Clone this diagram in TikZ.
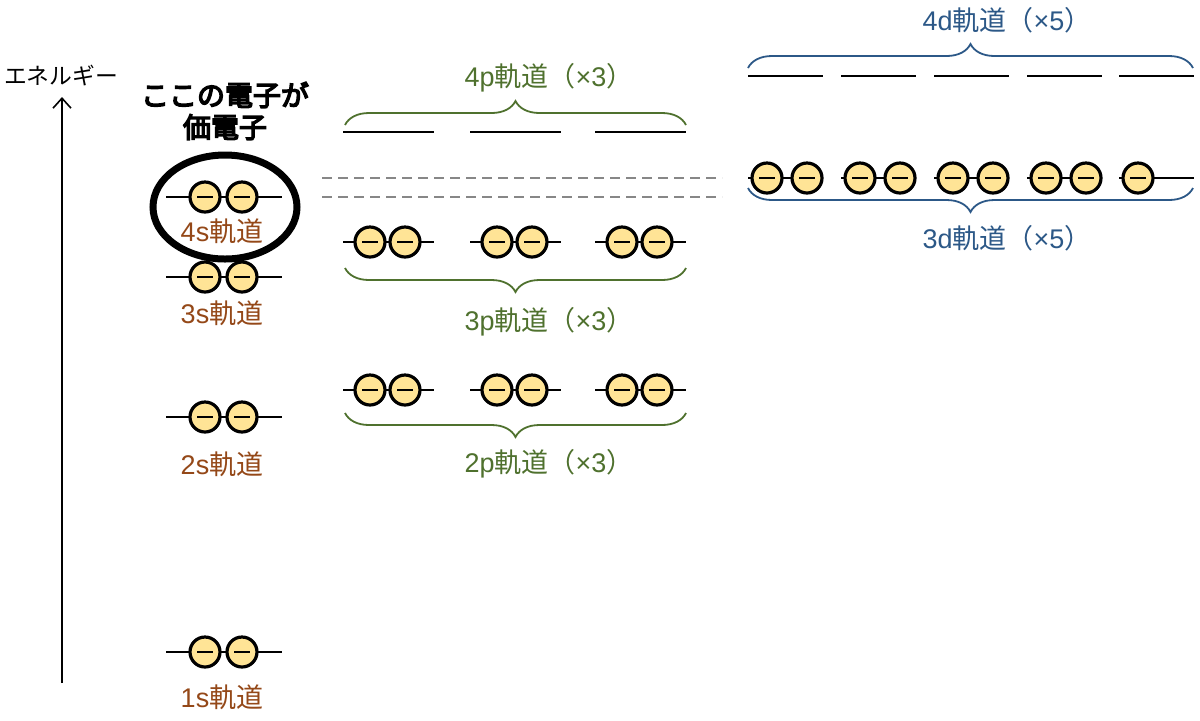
\documentclass[tikz,border=0pt]{standalone}
\usepackage{fontspec}
\setmainfont{Noto Sans CJK JP}
\newfontfamily\cjkheavy{Noto Sans CJK JP}[FakeBold=5]
\newfontfamily\latn{Liberation Sans}
\usetikzlibrary{arrows.meta,decorations.pathreplacing,shapes.geometric}
\definecolor{sbrown}{RGB}{148,72,24}
\definecolor{pgreen}{RGB}{79,113,46}
\definecolor{dblue}{RGB}{44,88,135}
\definecolor{efill}{RGB}{255,228,150}
\definecolor{dashgray}{RGB}{135,135,135}
\begin{document}
\begin{tikzpicture}[x=0.5pt,y=-0.5pt,
  orb/.style={line width=1pt,black},
  electron/.style={circle,draw=black,line width=1.6pt,fill=efill,minimum size=15pt,inner sep=0pt,
    path picture={\draw[line width=1pt] ([xshift=-3.8pt]path picture bounding box.center) -- ([xshift=3.8pt]path picture bounding box.center);}},
  lab/.style={font=\fontsize{13.5}{16}\selectfont},
  slab/.style={lab,text=sbrown},
  plab/.style={lab,text=pgreen},
  dlab/.style={lab,text=dblue},
  brc/.style={decorate,line width=0.9pt,decoration={brace,amplitude=12pt}},
  dashline/.style={dashgray,line width=0.8pt,dash pattern=on 5pt off 3pt}
]
\useasboundingbox (0,0) rectangle (1200,720);

% energy axis
\coordinate (axbot) at (62,683);
\coordinate (axtop) at (62,97);
\draw[line width=0.8pt,-{Straight Barb[length=5pt,width=9pt]}] (axbot) -- (axtop);
\node[font=\fontsize{11.4}{13}\selectfont] (energy) at (61,75) {エネルギー};

% heading
\node[font=\cjkheavy\fontsize{14}{16}\selectfont,align=center] (head) at (225,111) {ここの電子が\\価電子};

% s orbitals
\foreach \n/\y/\ly in {4/197/231,3/277/313,2/417/464,1/652/697}{
  \draw[orb] (166,\y) -- (282,\y);
  \node[electron] (s\n a) at (205,\y) {};
  \node[electron] (s\n b) at (242,\y) {};
  \node[slab] (s\n lab) at (222,\ly) {{\latn\n s}軌道};
}
\draw[line width=3.5pt] (225,207) ellipse [x radius=72, y radius=52];

% dashed guide lines
\draw[dashline] (322,178) -- (722,178);
\draw[dashline] (322,197) -- (722,197);

% p orbitals
\foreach \g/\x in {1/343,2/470,3/595}{
  \draw[orb] (\x,132) -- ++(91,0);
  \draw[orb] (\x,242) -- ++(91,0);
  \draw[orb] (\x,390) -- ++(91,0);
  \node[electron] (p3\g a) at (\x+27,242) {};
  \node[electron] (p3\g b) at (\x+62,242) {};
  \node[electron] (p2\g a) at (\x+27,390) {};
  \node[electron] (p2\g b) at (\x+62,390) {};
}
\draw[brc,pgreen] (345,125) -- (686,125);
\node[plab] (p4lab) at (549,78) {{\latn 4p}軌道（{\latn ×3}）};
\draw[brc,pgreen] (686,268) -- (345,268);
\node[plab] (p3lab) at (549,322) {{\latn 3p}軌道（{\latn ×3}）};
\draw[brc,pgreen] (686,413) -- (345,413);
\node[plab] (p2lab) at (549,464) {{\latn 2p}軌道（{\latn ×3}）};

% d orbitals
\foreach \g/\x in {1/748,2/841,3/934,4/1027,5/1119}{
  \draw[orb] (\x,76) -- ++(75,0);
  \draw[orb] (\x,178) -- ++(75,0);
  \node[electron] (d3\g a) at (\x+19,178) {};
}
\foreach \g/\x in {1/748,2/841,3/934,4/1027}{
  \node[electron] (d3\g b) at (\x+59,178) {};
}
\draw[brc,dblue] (748,68) -- (1193,68);
\node[dlab] (d4lab) at (1007,20) {{\latn 4d}軌道（{\latn ×5}）};
\draw[brc,dblue] (1193,188) -- (748,188);
\node[dlab] (d3lab) at (1007,238) {{\latn 3d}軌道（{\latn ×5}）};
\end{tikzpicture}
\end{document}
